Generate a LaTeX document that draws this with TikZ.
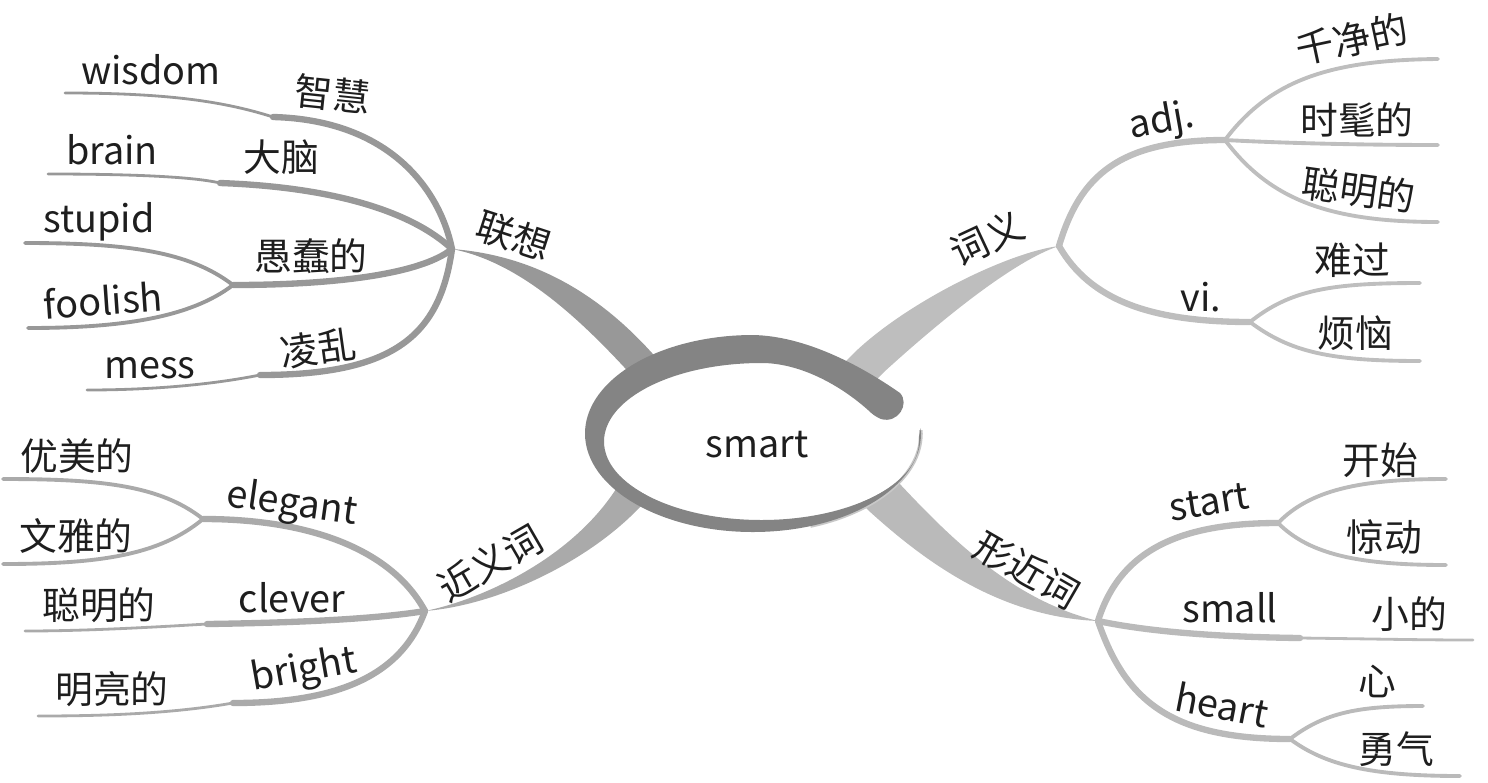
\documentclass[tikz,border=0pt]{standalone}
\usepackage{fontspec}
\newfontfamily\cjk{Noto Sans CJK SC}
\usetikzlibrary{calc}
\definecolor{ringgray}{RGB}{132,132,132}
\definecolor{rimgray}{RGB}{200,200,200}
\definecolor{assocgray}{RGB}{152,152,152}
\definecolor{meangray}{RGB}{190,190,190}
\definecolor{syngray}{RGB}{170,170,170}
\definecolor{formgray}{RGB}{186,186,186}
\definecolor{inkgray}{RGB}{30,30,30}
\tikzset{
    word/.style={font=\cjk\fontsize{21.5}{24}\selectfont, text=inkgray, inner sep=0pt},
    limb/.style={line width=3.6pt, line cap=round},
    twig/.style={line width=1.6pt, line cap=round},
    leaf/.style={line width=2.2pt, line cap=round}
}

\begin{document}
\begin{tikzpicture}[x=0.02cm, y=-0.02cm]

\useasboundingbox (0,0) rectangle (1488,782);

% Hubs
\coordinate (assoc) at (452,249);
\coordinate (mean) at (1059,246);
\coordinate (syn) at (425,611);
\coordinate (form) at (1098,621);
\coordinate (ringc) at (753,433.5);
\coordinate (ringi) at (761.5,441.5);

% Main branches (tapered)
\fill[assocgray] (assoc) .. controls (530,255) and (595,290) .. (652,353) -- (667,368) -- (639,382) -- (624,367)
    .. controls (580,320) and (520,262) .. (assoc) -- cycle;
\fill[meangray] (mean) .. controls (1010,252) and (910,300) .. (855,352) -- (843,364) -- (872,384) -- (884,372)
    .. controls (930,330) and (1010,262) .. (mean) -- cycle;
\fill[syngray] (syn) .. controls (480,600) and (570,560) .. (616,489) -- (626,476) -- (650,494) -- (640,507)
    .. controls (590,560) and (500,605) .. (syn) -- cycle;
\fill[formgray] (form) .. controls (1010,600) and (945,532) .. (898,482) -- (884,470) -- (856,497) -- (868,510)
    .. controls (925,562) and (1000,617) .. (form) -- cycle;

% Center swirl
\fill[white] (ringi) ellipse[x radius=157.5, y radius=78.5];
\draw[rimgray, line width=2pt] ($(ringc)+(-2:168 and 98.5)$) arc[start angle=-2, end angle=70, x radius=168, y radius=98.5];
\fill[ringgray] ($(ringc)+(-3:168 and 98.5)$) arc[start angle=-3, end angle=270, x radius=168, y radius=98.5]
    .. controls (805,336) and (860,365) .. (900,393)
    .. controls (910,404) and (898,424) .. (881,419) .. controls (876,417) and (872,414) .. (868,410)
    .. controls (840,385) and (800,363) .. (761.5,363)
    arc[start angle=270, end angle=-3, x radius=157.5, y radius=78.5] -- cycle;
\node[word] (root) at (757,445) {smart};

% Associations
\node[word, rotate=-18] (assoclabel) at (514,236) {联想};
\coordinate (wisdomKink) at (273,117);
\coordinate (wisdomEnd) at (65,93);
\coordinate (brainKink) at (220,183);
\coordinate (brainEnd) at (48,174);
\coordinate (fool) at (233,285);
\coordinate (stupidEnd) at (25,243);
\coordinate (foolishEnd) at (28,328);
\coordinate (messKink) at (260,375);
\coordinate (messEnd) at (87,390);
\begin{scope}[assocgray]
\draw[limb] (assoc) .. controls (440,190) and (390,120) .. (wisdomKink);
\draw[twig] (wisdomKink) .. controls (220,100) and (160,93) .. (wisdomEnd);
\draw[limb] (assoc) .. controls (410,210) and (330,187) .. (brainKink);
\draw[twig] (brainKink) .. controls (190,176) and (120,174) .. (brainEnd);
\draw[limb] (assoc) .. controls (420,275) and (330,285) .. (fool);
\draw[leaf] (fool) .. controls (190,252) and (130,243) .. (stupidEnd);
\draw[leaf] (fool) .. controls (190,318) and (120,328) .. (foolishEnd);
\draw[limb] (assoc) .. controls (440,335) and (395,375) .. (messKink);
\draw[twig] (messKink) .. controls (210,385) and (150,390) .. (messEnd);
\end{scope}
\node[word] (wisdom) at (151,70) {wisdom};
\node[word, rotate=-6] (wisdomzh) at (333,94) {智慧};
\node[word] (brain) at (112,150) {brain};
\node[word] (brainzh) at (281,157) {大脑};
\node[word] (stupid) at (99,222) {stupid};
\node[word] (stupidzh) at (311,256) {愚蠢的};
\node[word, rotate=4] (foolish) at (103,300) {foolish};
\node[word] (mess) at (150,368) {mess};
\node[word, rotate=8] (messzh) at (318,348) {凌乱};

% Meanings
\node[word, rotate=25] (meanlabel) at (987,238) {词义};
\coordinate (adjHub) at (1225,140);
\coordinate (viHub) at (1250,322);
\coordinate (cleanEnd) at (1438,59);
\coordinate (stylishEnd) at (1438,145);
\coordinate (cleverEnd) at (1438,222);
\coordinate (sadEnd) at (1420,283);
\coordinate (upsetEnd) at (1420,361);
\begin{scope}[meangray]
\draw[limb] (mean) .. controls (1080,175) and (1120,140) .. (adjHub);
\draw[leaf] (adjHub) .. controls (1270,80) and (1330,60) .. (cleanEnd);
\draw[leaf] (adjHub) .. controls (1280,143) and (1360,145) .. (stylishEnd);
\draw[leaf] (adjHub) .. controls (1270,200) and (1330,222) .. (cleverEnd);
\draw[limb] (mean) .. controls (1090,300) and (1150,322) .. (viHub);
\draw[leaf] (viHub) .. controls (1290,290) and (1330,283) .. (sadEnd);
\draw[leaf] (viHub) .. controls (1290,352) and (1330,361) .. (upsetEnd);
\end{scope}
\node[word, rotate=10] (adj) at (1162,122) {adj.};
\node[word] (vi) at (1201,297) {vi.};
\node[word, rotate=12] (clean) at (1352,39) {千净的};
\node[word] (stylish) at (1357,120) {时髦的};
\node[word, rotate=-8] (cleverzh) at (1359,190) {聪明的};
\node[word] (sad) at (1352,260) {难过};
\node[word] (upset) at (1355,333) {烦恼};

% Synonyms
\node[word, rotate=30] (synlabel) at (490,563) {近义词};
\coordinate (elegantHub) at (203,519);
\coordinate (graceEnd) at (3,479);
\coordinate (refinedEnd) at (3,564);
\coordinate (cleverKink) at (207,624);
\coordinate (cleverLeft) at (25,631);
\coordinate (brightKink) at (233,703);
\coordinate (brightEnd) at (38,716);
\begin{scope}[syngray]
\draw[limb] (syn) .. controls (395,555) and (320,519) .. (elegantHub);
\draw[leaf] (elegantHub) .. controls (160,485) and (100,479) .. (graceEnd);
\draw[leaf] (elegantHub) .. controls (160,555) and (100,564) .. (refinedEnd);
\draw[limb] (syn) .. controls (370,620) and (280,623) .. (cleverKink);
\draw[twig] (cleverKink) .. controls (140,628) and (80,631) .. (cleverLeft);
\draw[limb] (syn) .. controls (400,680) and (330,703) .. (brightKink);
\draw[twig] (brightKink) .. controls (170,714) and (100,716) .. (brightEnd);
\end{scope}
\node[word, rotate=-8] (elegant) at (292,505) {elegant};
\node[word] (clever) at (292,598) {clever};
\node[word, rotate=10] (bright) at (304,671) {bright};
\node[word] (grace) at (77,456) {优美的};
\node[word] (refined) at (76,536) {文雅的};
\node[word] (smartzh) at (99,605) {聪明的};
\node[word] (shiny) at (112,689) {明亮的};

% Look-alike words
\node[word, rotate=-30] (formlabel) at (1027,570) {形近词};
\coordinate (startHub) at (1278,523);
\coordinate (beginEnd) at (1446,479);
\coordinate (startleEnd) at (1446,565);
\coordinate (smallKink) at (1300,638);
\coordinate (smallEnd) at (1473,640);
\coordinate (heartHub) at (1290,739);
\coordinate (mindEnd) at (1423,706);
\coordinate (courageEnd) at (1460,776);
\begin{scope}[formgray]
\draw[limb] (form) .. controls (1120,550) and (1180,523) .. (startHub);
\draw[leaf] (startHub) .. controls (1310,490) and (1360,479) .. (beginEnd);
\draw[leaf] (startHub) .. controls (1310,555) and (1360,565) .. (startleEnd);
\draw[limb] (form) .. controls (1150,632) and (1220,637) .. (smallKink);
\draw[twig] (smallKink) .. controls (1380,639) and (1420,640) .. (smallEnd);
\draw[limb] (form) .. controls (1125,700) and (1170,739) .. (heartHub);
\draw[leaf] (heartHub) .. controls (1325,712) and (1360,706) .. (mindEnd);
\draw[leaf] (heartHub) .. controls (1325,765) and (1370,776) .. (courageEnd);
\end{scope}
\node[word, rotate=9] (start) at (1209,502) {start};
\node[word] (small) at (1230,608) {small};
\node[word, rotate=-11] (heart) at (1222,705) {heart};
\node[word] (begin) at (1380,460) {开始};
\node[word] (startle) at (1384,537) {惊动};
\node[word] (little) at (1409,614) {小的};
\node[word] (mind) at (1377,681) {心};
\node[word] (courage) at (1396,749) {勇气};

\end{tikzpicture}
\end{document}
